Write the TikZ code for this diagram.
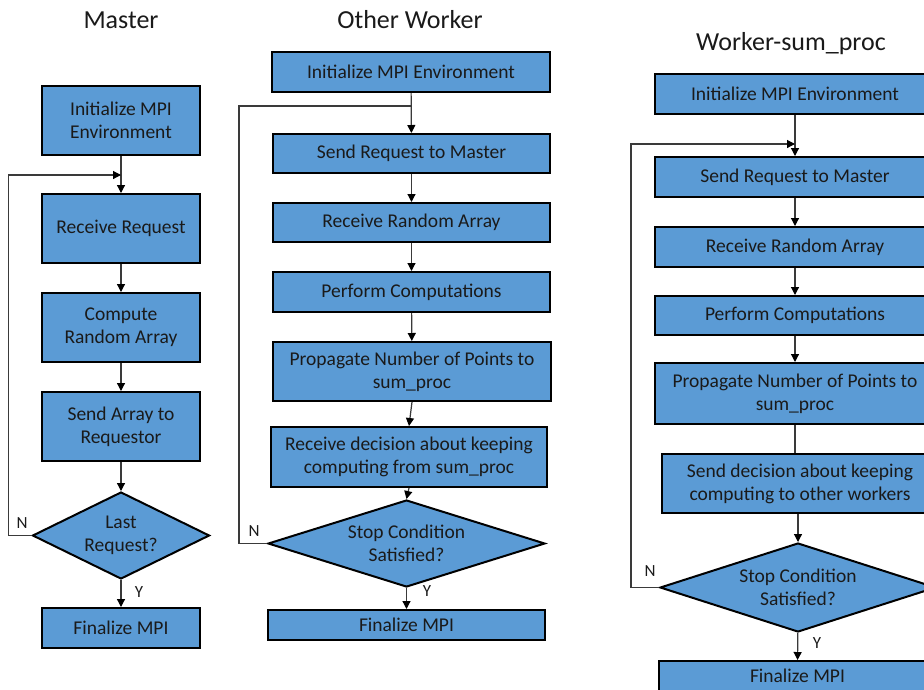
\documentclass[tikz,border=0pt]{standalone}
\usepackage{fontspec}
\setmainfont{Carlito}
\usetikzlibrary{shapes.geometric,arrows.meta}
\definecolor{boxblue}{HTML}{5B9BD5}
\definecolor{txt}{HTML}{1A1A1A}
\definecolor{ln}{HTML}{3A3A3A}
\tikzset{
  x=1pt,y=-1pt,
  stepbox/.style={draw=black,line width=2pt,fill=boxblue,text=txt,align=center,
    inner sep=0pt,font=\fontsize{19.5}{23}\selectfont},
  decide/.style={shape=diamond,draw=black,line width=2pt,fill=boxblue,text=txt,align=center,
    inner sep=0pt,font=\fontsize{19.5}{23}\selectfont},
  ttl/.style={text=txt,font=\fontsize{26}{31}\selectfont},
  lbl/.style={text=txt,font=\fontsize{17}{20}\selectfont},
  arr/.style={draw=ln,line width=1.2pt,-{Triangle[length=8pt,width=8pt,color=black]}},
  ln/.style={draw=ln,line width=1.2pt},
}
\begin{document}
\begin{tikzpicture}
\useasboundingbox (0,0) rectangle (924,689);
\clip (0,0) rectangle (924,689);
\fill[white] (0,0) rectangle (924,689);

% ---------- Master ----------
\node[ttl] (tm) at (121,20) {Master};
\node[stepbox,minimum width=158,minimum height=69] (m1) at (121,120.5) {Initialize MPI\\Environment};
\node[stepbox,minimum width=158,minimum height=69] (m2) at (121,228.5) {Receive Request};
\node[stepbox,minimum width=158,minimum height=69] (m3) at (121,327.5) {Compute\\Random Array};
\node[stepbox,minimum width=158,minimum height=69] (m4) at (121,426.5) {Send Array to\\Requestor};
\node[decide,minimum width=177,minimum height=87,aspect=2.03] (m5) at (121,535.5) {Last\\Request?};
\node[stepbox,minimum width=158,minimum height=40] (m6) at (121,628) {Finalize MPI};
\coordinate (mj) at (121,175);
\draw[arr] (m1) -- (m2);
\draw[arr] (m2) -- (m3);
\draw[arr] (m3) -- (m4);
\draw[arr] (m4) -- (m5);
\draw[arr] (m5) -- (m6);
\draw[arr] (m5.west) -- ++(-23,0) |- (mj);
\node[lbl] (mn) at (22,523) {N};
\node[lbl] (my) at (139,592) {Y};

% ---------- Other Worker ----------
\node[ttl] (tw) at (410,20) {Other Worker};
\node[stepbox,minimum width=278,minimum height=40] (w1) at (411,72) {Initialize MPI Environment};
\node[stepbox,minimum width=277,minimum height=39] (w2) at (411.5,153.5) {Send Request to Master};
\node[stepbox,minimum width=277,minimum height=39] (w3) at (411.5,222.5) {Receive Random Array};
\node[stepbox,minimum width=277,minimum height=40] (w4) at (411.5,292) {Perform Computations};
\node[stepbox,minimum width=278,minimum height=59] (w5) at (412,371.5) {Propagate Number of Points to\\sum\_proc};
\node[stepbox,minimum width=276,minimum height=60] (w6) at (409,457) {Receive decision about keeping\\computing from sum\_proc};
\node[decide,minimum width=277,minimum height=87,aspect=3.18] (w7) at (406.5,543.5) {Stop Condition\\Satisfied?};
\node[stepbox,minimum width=277,minimum height=30] (w8) at (406.5,625) {Finalize MPI};
\coordinate (wj) at (411,106);
\draw[arr] (w1) -- (w2);
\draw[arr] (w2) -- (w3);
\draw[arr] (w3) -- (w4);
\draw[arr] (w4) -- (w5);
\draw[arr] (w5.south) -- (w6.north);
\draw[arr] (w6.south) -- (w7.north);
\draw[arr] (w7) -- (w8);
\draw[ln] (w7.west) -- ++(-28,0) |- (wj);
\node[lbl] (wn) at (254,531) {N};
\node[lbl] (wy) at (427,591) {Y};

% ---------- Worker-sum_proc ----------
\node[ttl] (ts) at (791,44) {Worker-sum\_proc};
\node[stepbox,minimum width=280,minimum height=40] (s1) at (795,94) {Initialize MPI Environment};
\node[stepbox,minimum width=280,minimum height=40] (s2) at (795,177) {Send Request to Master};
\node[stepbox,minimum width=280,minimum height=40] (s3) at (795,247) {Receive Random Array};
\node[stepbox,minimum width=280,minimum height=39] (s4) at (795,315.5) {Perform Computations};
\node[stepbox,minimum width=280,minimum height=61] (s5) at (795,393.5) {Propagate Number of Points to\\sum\_proc};
\node[stepbox,minimum width=276,minimum height=59] (s6) at (800,483.5) {Send decision about keeping\\computing to other workers};
\node[decide,minimum width=276,minimum height=89,aspect=3.1] (s7) at (798,587.5) {Stop Condition\\Satisfied?};
\node[stepbox,minimum width=277,minimum height=30] (s8) at (797.5,676) {Finalize MPI};
\coordinate (sj) at (795,144);
\draw[arr] (s1) -- (s2);
\draw[arr] (s2) -- (s3);
\draw[arr] (s3) -- (s4);
\draw[arr] (s4) -- (s5);
\draw[ln] (s5.south) -- (s5.south |- s6.north);
\draw[arr] (s6.south -| s7.north) -- (s7.north);
\draw[arr] (s7) -- (s8);
\draw[arr] (s7.west) -- ++(-28,0) |- (sj);
\node[lbl] (sn) at (650,571) {N};
\node[lbl] (sy) at (817,643) {Y};
\end{tikzpicture}
\end{document}
